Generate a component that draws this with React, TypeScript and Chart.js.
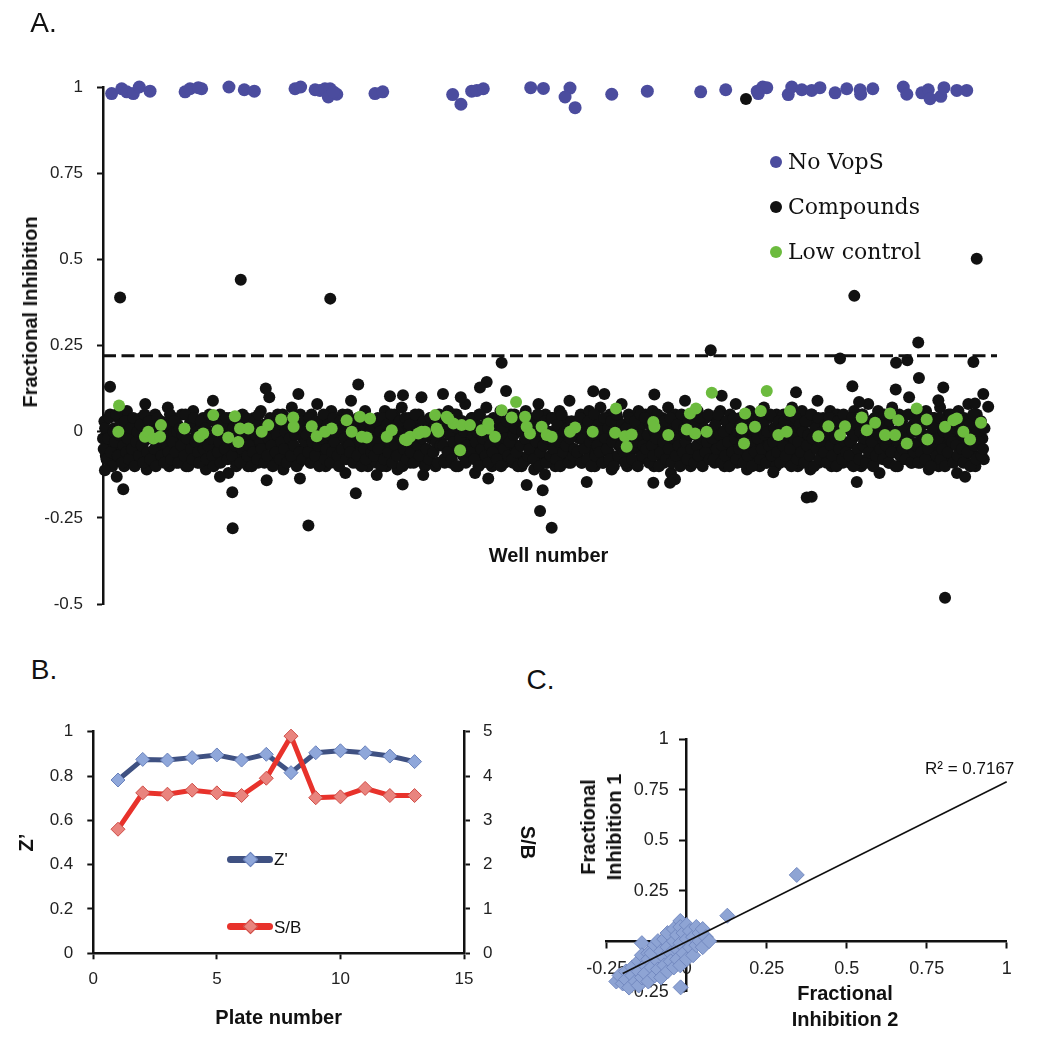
import React, { useEffect, useRef } from "react";
import { Chart, registerables } from "chart.js";

Chart.register(...registerables);

// ---------------- Panel A data ----------------
const wellMax = 5075;
const threshold = 0.22;
const bandStep = 8; // wells between consecutive compound samples in the dense band

// compound values (hundredths of fractional inhibition), read plate by plate (first pass)
const plate1 = [-2, 3, -7, 0, -5, 5, -9, -3, 1, -6, -1, 4, -8, -4, 2, -10, -2, 6, -6, 0, -8, 3, -4, -1, -9, 1, -5, 4, -7, -3, 8, -11, -2, 2, -6, 0, -9, 5, -4, -1, -8, 3, -5, -7, 1, -3, 7, -10];
const plate2 = [0, -6, 4, -3, -9, 2, -1, -7, 5, -5, -2, -10, 1, -8, 3, -4, 6, -6, -1, -9, 2, -3, -7, 4, 0, -11, -5, 3, -8, -2, 9, -4, -6, 1, -9, 5, -3, -1, -7, 2, -5, -12, 4, -2, -8, 0, -6, 3];
const plate3 = [-4, 2, -8, 5, -1, -6, 3, -10, 0, -3, -7, 4, -5, 1, -9, -2, 6, -6, 2, -4, -8, 0, 10, -3, -7, 3, -1, -9, 5, -5, -2, 1, -11, -6, 4, -3, 0, -8, 7, -4, -1, -7, 2, -9, 5, -5, -2, 1];
const plate4 = [-7, 3, -2, -9, 5, -5, 0, -4, 8, -8, 2, -1, -6, 4, -10, -3, 1, -7, 6, -4, -1, -9, 3, -5, 0, -8, 5, -2, -12, 2, -6, -3, 9, -7, 1, -4, -9, 4, -1, -5, 2, -8, 6, -3, -10, 0, -6, 3];
const plate5 = [1, -5, -9, 4, -2, -7, 2, -4, 6, -10, -1, 3, -6, 0, -8, 5, -3, -11, 2, -5, 7, -2, -8, 1, -4, 4, -9, -1, 3, -6, 0, -7, 5, -3, 10, -9, -1, 2, -5, -8, 4, -2, -6, 1, -10, 3, -4, 0];
const plate6 = [-3, 4, -8, 1, -5, 6, -1, -9, 2, -6, -2, 5, -10, 0, -4, 3, -7, 8, -3, -8, 1, -5, 4, -1, -12, 2, -6, 5, -2, -9, 0, -4, 7, -7, 3, -1, -10, 4, -5, 1, -8, -3, 6, -6, 2, -9, -1, 3];
const plate7 = [-6, 2, -1, -9, 5, -4, 0, -7, 3, -10, 1, -3, 6, -8, -2, 4, -5, 0, -11, 2, -6, 8, -1, -8, 3, -4, 5, -9, 0, -3, -7, 4, -2, -10, 1, -5, 6, -8, 2, -1, -6, 3, -4, 9, -9, 0, -5, 2];
const plate8 = [3, -7, -2, 5, -9, 0, -4, 2, -8, 6, -1, -5, 1, -10, 4, -3, -7, 7, -2, -9, 3, -5, 0, -6, 5, -11, -1, 2, -8, 4, -4, -2, 8, -7, 1, -3, -10, 5, -6, 0, -9, 3, -1, -5, 6, -8, 2, -4];
const plate9 = [-1, 5, -8, -3, 2, -6, 6, -10, 0, -4, 3, -7, -2, 4, -9, 1, -5, 7, -3, -12, 2, -6, 5, -1, -8, 0, -4, 3, -9, 9, -2, -6, 1, -10, 4, -5, 0, -7, 6, -3, -9, 2, -1, -5, 4, -8, 0, -3];
const plate10 = [-5, 1, -9, 4, -2, -7, 6, -4, 0, -10, 3, -1, -6, 5, -8, 2, -3, 8, -9, -1, 4, -5, 0, -7, 3, -11, -2, 6, -6, 1, -4, -8, 5, -1, -10, 2, -6, 7, -3, -9, 0, 4, -5, -2, 1, -8, 5, -4];
const plate11 = [2, -8, -1, 5, -5, 0, -9, 3, -3, 7, -7, 1, -4, -10, 4, -2, 6, -6, 0, -8, 3, -1, -11, 5, -5, 2, -3, 9, -9, 0, -6, 4, -2, -7, 1, -4, 6, -10, 3, -1, -8, 5, -5, 0, -3, -9, 2, -6];
const plate12 = [-4, 4, -9, 0, -2, 6, -7, 2, -5, -1, -10, 5, -3, 1, -8, 8, -6, 3, -1, -9, 0, -4, 6, -12, -2, 2, -7, 4, -5, 1, -9, -3, 7, -6, 0, -1, -10, 5, -4, 3, -8, -2, 1, -6, 10, -3, -9, 2];
const plate13 = [0, -6, 5, -3, -9, 3, -1, -7, 6, -4, -11, 2, -2, -8, 4, -5, 1, -10, 7, -3, -6, 2, -1, -9, 5, -4, 0, -8, 3, -2, -12, 6, -5, 1, -7, 4, -3, -9, 8, -1, -6, 2, -4, -10, 5, 0, -7, 3, -2, -8];
const compoundPlates = [plate1, plate2, plate3, plate4, plate5, plate6, plate7, plate8, plate9, plate10, plate11, plate12, plate13];

// second pass over the same plates (interleaved wells)
const plate1b = [-5, 1, -8, -2, 4, -6, -10, 0, -3, 5, -7, -1, 2, -9, -4, 3, -6, -2, -8, 1, -5, 4, -10, -3, 0, -7, 2, -4, -9, 5, -1, -6, 3, -8, -2, 0, -5, -10, 4, -3, 1, -7, -1, -9, 2, -4, -6, 5];
const plate2b = [-8, -3, 3, -6, 0, -9, 1, -4, -1, -7, 5, -2, -10, 2, -5, -8, 4, -3, 0, -6, -9, 3, -1, -5, 1, -8, -4, 5, -2, -7, -10, 0, 3, -6, -3, -9, 2, -1, -5, 4, -8, -2, 0, -7, 1, -4, -10, 3];
const plate3b = [2, -9, -5, 0, -2, 4, -7, -4, 1, -10, -6, 3, -1, -8, 5, -3, -5, 0, -9, 2, -7, -2, 4, -4, -10, 1, -6, -1, 3, -8, -3, 5, -5, 0, -9, 2, -2, -7, 4, -4, -1, -10, 1, -6, 3, -8, 0, -3];
const plate4b = [-1, -6, 4, -9, -3, 1, -7, 3, -4, -10, 0, -2, 5, -8, -5, 2, -1, -9, -6, 4, -3, 0, -7, -10, 3, -5, 1, -2, -8, 5, -4, -6, 0, -9, 2, -1, -7, 4, -3, -10, 1, -5, -8, 3, -2, 0, -6, -4];
const plate5b = [-7, 3, -2, -5, 0, -10, 4, -8, -1, 2, -6, -3, 5, -9, 1, -4, -7, 0, 3, -2, -10, -5, 4, -8, -1, 2, -6, -3, -9, 5, 0, -4, -7, 1, -2, 3, -10, -5, 0, -8, 4, -1, -6, 2, -3, -9, 5, -4];
const plate6b = [0, -4, -9, 2, -6, 4, -1, -8, -3, 5, -10, 1, -5, -2, 3, -7, 0, -9, -4, 2, -6, 4, -1, -8, -3, 0, -10, 5, -5, -2, 1, -7, 3, -9, -4, 0, -6, 2, -1, -8, 4, -3, -10, 1, -5, -2, 3, -7];
const plate7b = [-3, 5, -8, -1, 1, -6, -10, 3, -4, 0, -9, -2, 4, -7, -5, 2, -1, -8, 0, -3, 5, -10, -6, 1, -4, 3, -9, -2, 0, -7, 4, -5, -1, -8, 2, -3, -10, 5, -6, 0, -4, 1, -9, -2, 3, -7, -5, 0];
const plate8b = [-6, 0, 4, -9, -2, -5, 1, -8, 3, -3, -10, -1, 5, -7, -4, 2, -6, 0, -9, 4, -2, -5, 1, -8, 3, -3, -10, -1, 5, -7, 0, -4, 2, -6, -9, 1, -2, 4, -5, -8, 0, 3, -3, -10, -1, 5, -7, -4];
const plate9b = [4, -5, -1, -9, 2, -4, -7, 0, -2, 5, -10, -6, 1, -3, 3, -8, -1, -5, 4, -9, 0, -2, -7, 2, -4, -10, 5, -6, 1, -3, -8, 3, -1, -5, 0, -9, 2, -4, -7, 4, -2, -10, 1, -6, -3, 5, -8, 0];
const plate10b = [-2, -8, 2, -5, 5, -1, -9, -4, 0, -7, 3, -3, -10, 1, -6, 4, -2, -8, 0, -5, 2, -1, -9, 5, -4, -7, 1, -3, -10, 3, -6, 0, -2, 4, -8, -5, 2, -1, -9, 0, -4, 5, -7, -3, 1, -10, -6, 3];
const plate11b = [-9, 1, -4, 3, -7, -1, 5, -5, -10, 0, -2, 4, -8, -3, 2, -6, 0, -9, 3, -4, -1, -7, 5, -2, -10, 1, -5, 4, -8, -3, 0, -6, 2, -9, -1, 4, -4, -7, 1, -2, -10, 3, -5, 0, -8, 5, -3, -6];
const plate12b = [1, -7, -3, 4, -10, -1, 2, -5, -8, 0, 5, -4, -2, -9, 3, -6, 1, -3, -10, 4, -7, 0, -1, -5, 2, -8, 5, -4, -2, -9, 3, -6, 0, -1, -10, 4, -3, -7, 2, -5, 1, -8, -2, 5, -4, -9, 0, -6];
const plate13b = [-4, 3, -9, 0, -6, 2, -2, -8, 5, -5, -1, -10, 4, -3, 1, -7, -2, 4, -8, -5, 0, -10, 3, -6, -1, 5, -3, -9, 1, -4, -7, 2, 0, -5, -9, 3, -2, -6, 2, -10, -1, 5, -4, -8, 0, -3, 3, -7, -5, 1];
const compoundPlatesB = [plate1b, plate2b, plate3b, plate4b, plate5b, plate6b, plate7b, plate8b, plate9b, plate10b, plate11b, plate12b, plate13b];

// compounds away from the band (hits and low outliers)
const outlierWells = [97, 782, 1290, 3650, 4960, 4265, 40, 115, 734, 736, 1166, 1435, 1449, 1701, 2263, 2178, 2140, 2288, 924, 1109, 1703, 1629, 1930, 2031, 3450, 4628, 4184, 4502, 4566, 4941, 4632, 4254, 4500, 4770, 4742, 4997, 4292, 3934, 2783, 2846, 3130, 3512, 2481, 2547, 2496, 2509, 2405, 3247, 3219, 4023, 3995, 4780, 3124, 2746, 3805, 4279, 4894, 11, 78, 664, 929, 1118, 1818, 2187, 1554, 4950, 5025];
const outlierValues = [0.389, 0.441, 0.386, 0.965, 0.502, 0.394, 0.13, -0.167, -0.176, -0.28, -0.272, -0.179, 0.137, -0.153, 0.2, 0.144, 0.128, 0.118, 0.125, 0.109, 0.106, 0.103, 0.109, 0.1, 0.236, 0.259, 0.212, 0.2, 0.207, 0.202, 0.156, 0.132, 0.122, 0.128, 0.091, 0.109, 0.086, 0.114, 0.117, 0.109, 0.108, 0.104, -0.23, -0.279, -0.17, -0.124, -0.155, -0.138, -0.148, -0.189, -0.191, -0.482, -0.148, -0.146, -0.118, -0.146, -0.131, -0.112, -0.131, -0.131, -0.141, -0.136, -0.126, -0.136, -0.126, 0.082, 0.072];

const noVopsWells = [49, 106, 135, 172, 206, 267, 466, 494, 541, 560, 715, 802, 859, 1090, 1122, 1204, 1232, 1260, 1289, 1279, 1327, 1307, 1544, 1588, 1985, 2032, 2093, 2122, 2159, 2428, 2500, 2651, 2623, 2680, 2888, 3090, 3393, 3535, 3714, 3745, 3768, 3720, 3890, 3910, 3967, 4023, 4070, 4156, 4222, 4301, 4298, 4370, 4543, 4563, 4648, 4685, 4695, 4756, 4774, 4847, 4903];
const noVopsValues = [0.981, 0.995, 0.986, 0.981, 1.0, 0.988, 0.986, 0.995, 0.998, 0.995, 1.0, 0.992, 0.988, 0.995, 1.0, 0.992, 0.99, 0.995, 0.995, 0.971, 0.979, 0.986, 0.981, 0.986, 0.978, 0.95, 0.988, 0.99, 0.995, 0.998, 0.996, 0.997, 0.971, 0.94, 0.979, 0.988, 0.986, 0.992, 0.988, 1.0, 0.998, 0.981, 0.978, 1.0, 0.992, 0.99, 0.998, 0.983, 0.995, 0.979, 0.992, 0.995, 1.0, 0.979, 0.983, 0.992, 0.966, 0.973, 0.998, 0.99, 0.99];

const lowCtrlWells = [91, 87, 238, 257, 286, 329, 324, 462, 547, 569, 626, 651, 711, 749, 778, 768, 825, 901, 938, 1011, 1080, 1082, 1185, 1213, 1260, 1298, 1383, 1412, 1459, 1516, 1469, 1497, 1611, 1639, 1714, 1743, 1790, 1828, 1885, 1894, 1951, 1989, 2027, 2036, 2083, 2150, 2187, 2225, 2263, 2320, 2345, 2396, 2405, 2424, 2490, 2519, 2651, 2680, 2780, 2912, 2907, 2963, 2973, 3001, 3124, 3130, 3209, 3314, 3332, 3366, 3361, 3427, 3456, 3626, 3639, 3645, 3701, 3734, 3768, 3834, 3881, 3900, 4061, 4118, 4184, 4212, 4307, 4336, 4383, 4439, 4468, 4496, 4515, 4563, 4619, 4615, 4676, 4680, 4780, 4827, 4847, 4884, 4922, 4984, 1724, 1809, 1903, 1960, 2187, 2547];
const lowCtrlValues = [0.076, 0.0, -0.015, 0.0, -0.02, 0.019, -0.015, 0.009, -0.015, -0.005, 0.048, 0.004, -0.017, 0.045, 0.009, -0.03, 0.009, 0.0, 0.019, 0.035, 0.041, 0.014, 0.016, -0.013, 0.0, 0.009, 0.033, 0.0, 0.043, 0.038, -0.015, -0.017, -0.015, 0.004, -0.023, -0.015, -0.005, 0.0, 0.048, 0.009, 0.043, 0.024, -0.054, 0.019, 0.019, 0.004, 0.009, -0.015, 0.062, 0.041, 0.086, 0.043, 0.014, -0.005, 0.014, -0.01, 0.0, 0.012, 0.0, 0.067, -0.003, -0.013, -0.044, -0.008, 0.028, 0.014, -0.01, 0.006, 0.053, 0.067, -0.005, 0.0, 0.113, 0.009, -0.034, 0.053, 0.014, 0.06, 0.118, -0.01, 0.0, 0.06, -0.013, 0.016, -0.01, 0.016, 0.041, 0.004, 0.026, -0.01, 0.053, -0.01, 0.033, -0.034, 0.067, 0.006, 0.035, -0.023, 0.014, 0.033, 0.038, 0.0, -0.023, 0.026, -0.025, 0.0, 0.0, 0.038, 0.024, -0.015];

// ---------------- Panel B data ----------------
const plateNumbers = [1, 2, 3, 4, 5, 6, 7, 8, 9, 10, 11, 12, 13];
const zPrime = [0.782, 0.875, 0.872, 0.883, 0.895, 0.872, 0.898, 0.815, 0.905, 0.914, 0.905, 0.89, 0.865];
const signalToBackground = [2.8, 3.62, 3.59, 3.68, 3.62, 3.56, 3.95, 4.9, 3.51, 3.53, 3.72, 3.56, 3.56];

// ---------------- Panel C data ----------------
const fracInhibition2 = [-0.22, -0.21, -0.2, -0.19, -0.19, -0.18, -0.17, -0.17, -0.16, -0.15, -0.15, -0.15, -0.14, -0.14, -0.14, -0.13, -0.13, -0.12, -0.12, -0.12, -0.11, -0.11, -0.1, -0.1, -0.09, -0.09, -0.09, -0.08, -0.08, -0.07, -0.07, -0.07, -0.06, -0.06, -0.06, -0.05, -0.05, -0.04, -0.04, -0.04, -0.03, -0.03, -0.03, -0.02, -0.02, -0.02, -0.02, -0.01, -0.01, 0, 0, 0, 0.01, 0.01, 0.02, 0.02, 0.03, 0.03, 0.04, 0.04, 0.05, 0.05, 0.06, 0.07, -0.019, 0.127, 0.344];
const fracInhibition1 = [-0.2, -0.17, -0.21, -0.15, -0.19, -0.23, -0.13, -0.17, -0.2, -0.1, -0.15, -0.22, -0.01, -0.07, -0.18, -0.12, -0.16, -0.06, -0.09, -0.2, -0.13, -0.06, -0.17, -0.02, 0.0, -0.1, -0.14, -0.05, -0.18, 0.01, -0.08, -0.12, 0.04, -0.03, -0.15, -0.06, -0.1, 0.06, 0.0, -0.13, 0.03, -0.04, -0.09, 0.1, 0.07, -0.01, -0.12, 0.04, -0.06, 0.08, 0.01, -0.09, 0.05, -0.03, 0.02, -0.07, 0.07, -0.02, 0.04, 0.0, 0.06, -0.03, 0.02, 0.0, -0.229, 0.126, 0.328];
const trendX = [-0.2, 1];
const trendY = [-0.16, 0.79];
const rSquared = "0.7167";

// ---------------- styles ----------------
const SANS = "'Liberation Sans', Arial, sans-serif";
const SERIF = "'DejaVu Serif', serif";
const INK = "#111111";
const BLUE = "#4B4C9E";
const GREEN = "#6CBB3E";
const NAVY = "#3F5182";
const RED = "#E8322B";

const fmt = (v: number) => String(Math.round(v * 1000) / 1000);

function Label(props: {
  x: number; y: number; size: number; bold?: boolean; family?: string;
  rotate?: number; align?: "center" | "left"; lh?: number | string; children: React.ReactNode;
}) {
  const { x, y, size, bold, family, rotate = 0, align = "center", lh = 1, children } = props;
  const tx = align === "center" ? "-50%" : "0";
  return (
    <div
      style={{
        position: "absolute", left: x, top: y,
        transform: `translate(${tx},-50%) rotate(${rotate}deg)`,
        fontSize: size, fontWeight: bold ? 700 : 400, fontFamily: family ?? SANS,
        lineHeight: lh, whiteSpace: "pre", textAlign: "center", color: INK,
      }}
    >
      {children}
    </div>
  );
}

function axisStyle(size: number) {
  return {
    grid: { drawOnChartArea: false, drawTicks: true, tickLength: 6, tickColor: INK, tickWidth: 2 },
    border: { display: true, color: INK, width: 2.5 },
    ticks: { color: "#222", font: { family: SANS, size }, callback: (v: number) => fmt(v) },
  };
}

export default function App() {
  const refA = useRef<HTMLCanvasElement | null>(null);
  const refB = useRef<HTMLCanvasElement | null>(null);
  const refC = useRef<HTMLCanvasElement | null>(null);

  useEffect(() => {
    document.body.style.margin = "0";
    const charts: Chart[] = [];

    // ---------- Panel A ----------
    const compounds: { x: number; y: number }[] = [];
    compoundPlates.flat().forEach((v, i) => compounds.push({ x: i * bandStep, y: v / 100 }));
    compoundPlatesB.flat().forEach((v, i) => compounds.push({ x: i * bandStep + bandStep / 2, y: v / 100 }));
    outlierWells.forEach((w, i) => compounds.push({ x: w, y: outlierValues[i] }));
    const noVops = noVopsWells.map((w, i) => ({ x: w, y: noVopsValues[i] }));
    const lowCtrl = lowCtrlWells.map((w, i) => ({ x: w, y: lowCtrlValues[i] }));
    const axA = axisStyle(17);

    charts.push(
      new Chart(refA.current!, {
        type: "scatter",
        data: {
          datasets: [
            { label: "No VopS", data: noVops, backgroundColor: BLUE, pointRadius: 6.5, borderWidth: 0, clip: false } as any,
            {
              label: "threshold", type: "line", data: [{ x: 0, y: threshold }, { x: wellMax, y: threshold }],
              borderColor: INK, borderWidth: 3, borderDash: [13, 5.5], pointRadius: 0, fill: false, clip: false,
            } as any,
            { label: "Low control", data: lowCtrl, backgroundColor: GREEN, pointRadius: 6, borderWidth: 0, clip: false } as any,
            { label: "Compounds", data: compounds, backgroundColor: INK, pointRadius: 6, borderWidth: 0, clip: false } as any,
          ],
        },
        options: {
          responsive: false, animation: false, devicePixelRatio: 1, events: [],
          layout: { padding: { top: 87, right: 51, bottom: 46, left: 0 } },
          plugins: { legend: { display: false }, tooltip: { enabled: false } },
          scales: {
            x: { type: "linear", display: false, min: 0, max: wellMax },
            y: {
              type: "linear", min: -0.5, max: 1,
              afterFit: (s: any) => { s.width = 103; },
              grid: axA.grid, border: axA.border,
              ticks: { ...axA.ticks, stepSize: 0.25, padding: 14 },
            },
          },
        } as any,
      })
    );

    // ---------- Panel B ----------
    const axB = axisStyle(17);
    charts.push(
      new Chart(refB.current!, {
        type: "line",
        data: {
          datasets: [
            {
              label: "S/B", yAxisID: "y1",
              data: plateNumbers.map((p, i) => ({ x: p, y: signalToBackground[i] })),
              borderColor: RED, borderWidth: 5, pointStyle: "rectRot", pointRadius: 7,
              pointBackgroundColor: "#E9847E", pointBorderColor: "#CF4C46", pointBorderWidth: 1, tension: 0, clip: false,
            } as any,
            {
              label: "Z'", yAxisID: "y",
              data: plateNumbers.map((p, i) => ({ x: p, y: zPrime[i] })),
              borderColor: NAVY, borderWidth: 5, pointStyle: "rectRot", pointRadius: 7,
              pointBackgroundColor: "#8FA7DA", pointBorderColor: "#6A82BC", pointBorderWidth: 1, tension: 0, clip: false,
            } as any,
          ],
        },
        options: {
          responsive: false, animation: false, devicePixelRatio: 1, events: [],
          layout: { padding: { top: 31.7, right: 0, bottom: 0, left: 0 } },
          plugins: { legend: { display: false }, tooltip: { enabled: false } },
          scales: {
            x: {
              type: "linear", min: 0, max: 15,
              afterFit: (s: any) => { s.height = 96.7; },
              grid: axB.grid, border: axB.border,
              ticks: { ...axB.ticks, stepSize: 5, padding: 10 },
              title: { display: true, text: "Plate number", color: INK, font: { family: SANS, size: 20, weight: "bold" }, padding: { top: 0, bottom: 19.7 } },
            },
            y: {
              type: "linear", position: "left", min: 0, max: 1,
              afterFit: (s: any) => { s.width = 93.3; },
              grid: axB.grid, border: axB.border,
              ticks: { ...axB.ticks, stepSize: 0.2, padding: 14 },
              title: { display: true, text: "Z\u2019", color: INK, font: { family: SANS, size: 20, weight: "bold" }, padding: { top: 15, bottom: 0 } },
            },
            y1: {
              type: "linear", position: "right", min: 0, max: 5,
              afterFit: (s: any) => { s.width = 81; },
              grid: axB.grid, border: axB.border,
              ticks: { ...axB.ticks, stepSize: 1, padding: 13 },
              title: { display: true, text: "S/B", color: INK, font: { family: SANS, size: 20, weight: "bold" }, padding: { top: 6, bottom: 0 } },
            },
          },
        } as any,
      })
    );

    // ---------- Panel C ----------
    const axC = axisStyle(18);
    charts.push(
      new Chart(refC.current!, {
        type: "scatter",
        data: {
          datasets: [
            {
              label: "trend", type: "line",
              data: trendX.map((x, i) => ({ x, y: trendY[i] })),
              borderColor: INK, borderWidth: 1.6, pointRadius: 0, fill: false, clip: false,
            } as any,
            {
              label: "replicates",
              data: fracInhibition2.map((x, i) => ({ x, y: fracInhibition1[i] })),
              pointStyle: "rectRot", pointRadius: 7.5, backgroundColor: "#8EA4D4", borderColor: "#7389C0", borderWidth: 1, clip: false,
            } as any,
          ],
        },
        options: {
          responsive: false, animation: false, devicePixelRatio: 1, events: [],
          layout: { padding: { top: 39.3, right: 41.3, bottom: 58.4, left: 66.7 } },
          plugins: { legend: { display: false }, tooltip: { enabled: false } },
          scales: {
            x: {
              type: "linear", axis: "x", position: { y: 0 }, min: -0.25, max: 1, z: 1,
              grid: axC.grid, border: axC.border,
              ticks: { ...axC.ticks, stepSize: 0.25, padding: 11 },
            },
            y: {
              type: "linear", axis: "y", position: { x: 0 }, min: -0.25, max: 1, z: 1,
              grid: axC.grid, border: axC.border,
              // labels of an axis placed at x = 0 are right-aligned on the axis itself; en spaces keep them clear of the tick marks
              ticks: { ...axC.ticks, stepSize: 0.25, callback: (v: number) => fmt(v) + "\u2002\u2002" },
            },
          },
        } as any,
      })
    );

    return () => charts.forEach((c) => c.destroy());
  }, []);

  const legendA = [
    { y: 161.7, color: BLUE, text: "No VopS" },
    { y: 207, color: INK, text: "Compounds" },
    { y: 251.7, color: GREEN, text: "Low control" },
  ];
  const legendB = [
    { y: 859, line: NAVY, fill: "#8FA7DA", edge: "#6A82BC", text: "Z'" },
    { y: 926.7, line: RED, fill: "#E9847E", edge: "#CF4C46", text: "S/B" },
  ];

  return (
    <div style={{ position: "absolute", left: 0, top: 0, width: 1048, height: 1050, background: "#ffffff", overflow: "hidden" }}>
      <canvas ref={refA} width={1048} height={650} style={{ position: "absolute", left: 0, top: 0 }} />
      <canvas ref={refB} width={545} height={350} style={{ position: "absolute", left: 0, top: 700 }} />
      <canvas ref={refC} width={508} height={350} style={{ position: "absolute", left: 540, top: 700 }} />

      {/* Panel A texts */}
      <Label x={43.5} y={23} size={28}>A.</Label>
      <Label x={30} y={311.5} size={20} bold rotate={-90}>Fractional Inhibition</Label>
      <Label x={548.5} y={555} size={20} bold>Well number</Label>
      {legendA.map((l) => (
        <React.Fragment key={l.text}>
          <div style={{ position: "absolute", left: 775.5 - 6, top: l.y - 6, width: 12, height: 12, borderRadius: "50%", background: l.color }} />
          <Label x={788} y={l.y} size={22} family={SERIF} align="left">{l.text}</Label>
        </React.Fragment>
      ))}

      {/* Panel B texts */}
      <Label x={44} y={670} size={28}>B.</Label>
      {legendB.map((l) => (
        <React.Fragment key={l.text}>
          <div style={{ position: "absolute", left: 227, top: l.y - 3.5, width: 46, height: 7, borderRadius: 3.5, background: l.line }} />
          <div style={{ position: "absolute", left: 250 - 5.5, top: l.y - 5.5, width: 11, height: 11, boxSizing: "border-box", background: l.fill, border: `1px solid ${l.edge}`, transform: "rotate(45deg)" }} />
          <Label x={274} y={l.y} size={17} align="left">{l.text}</Label>
        </React.Fragment>
      ))}

      {/* Panel C texts */}
      <Label x={540.5} y={680} size={28}>C.</Label>
      <Label x={601} y={827} size={20} bold rotate={-90} lh="26px">{"Fractional\nInhibition 1"}</Label>
      <Label x={845} y={1006} size={20} bold lh="26px">{"Fractional\nInhibition 2"}</Label>
      <Label x={925} y={768} size={17} align="left">{`R\u00B2 = ${rSquared}`}</Label>
    </div>
  );
}
